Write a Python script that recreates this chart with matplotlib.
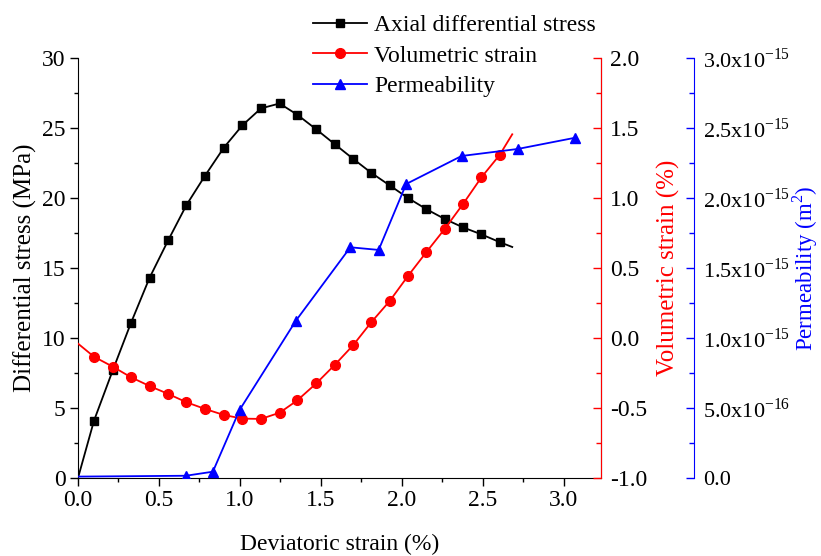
import numpy as np
import matplotlib
matplotlib.use('Agg')
import matplotlib.pyplot as plt
from matplotlib.ticker import FixedLocator, FuncFormatter

plt.rcParams['font.family'] = ['Liberation Serif', 'DejaVu Serif']
plt.rcParams['mathtext.fontset'] = 'custom'
plt.rcParams['mathtext.rm'] = 'Liberation Serif'
plt.rcParams['font.size'] = 17

# deviatoric strain (%) shared by stress and volumetric strain
strain = [0, 0.099, 0.215, 0.328, 0.442, 0.558, 0.670, 0.785, 0.901, 1.016,
          1.130, 1.245, 1.354, 1.472, 1.585, 1.699, 1.811, 1.925, 2.038,
          2.152, 2.265, 2.378, 2.492, 2.604, 2.682]
stress = [0, 4.1, 7.7, 11.1, 14.3, 17.0, 19.5, 21.6, 23.6, 25.2, 26.4, 26.75,
          25.95, 24.9, 23.85, 22.8, 21.8, 20.9, 20.0, 19.2, 18.5, 17.9, 17.4,
          16.85, 16.5]
vol_strain = [-0.04, -0.134, -0.205, -0.281, -0.343, -0.40, -0.459, -0.507,
              -0.55, -0.576, -0.578, -0.534, -0.446, -0.324, -0.193, -0.052,
              0.112, 0.264, 0.443, 0.614, 0.779, 0.957, 1.148, 1.307, 1.455]

# permeability
perm_strain = [0, 0.666, 0.833, 0.998, 1.346, 1.682, 1.857, 2.027, 2.369,
               2.715, 3.069]
perm = [0.01e-15, 0.016e-15, 0.045e-15, 0.486e-15, 1.124e-15, 1.648e-15,
        1.629e-15, 2.10e-15, 2.30e-15, 2.35e-15, 2.43e-15]

# tick positions
x_ticks = [0, 0.5, 1.0, 1.5, 2.0, 2.5, 3.0]
stress_ticks = [0, 5, 10, 15, 20, 25, 30]
vol_ticks = [-1.0, -0.5, 0.0, 0.5, 1.0, 1.5, 2.0]
perm_ticks = [0, 0.5e-15, 1.0e-15, 1.5e-15, 2.0e-15, 2.5e-15, 3.0e-15]

fig = plt.figure(figsize=(8.21, 5.56), dpi=100)
ax = fig.add_axes([0.095, 0.1403, 0.637, 0.7554])
ax2 = ax.twinx()
ax3 = ax.twinx()

l1, = ax.plot(strain, stress, color='black', lw=1.3, marker='s', ms=6,
              markevery=slice(1, -1), label='Axial differential stress', zorder=3)
l2, = ax2.plot(strain, vol_strain, color='red', lw=1.3, marker='o', ms=7,
               markevery=slice(1, -1), label='Volumetric strain')
l3, = ax3.plot(perm_strain, perm, color='blue', lw=1.3, marker='^', ms=7.5,
               markevery=slice(1, None), label='Permeability')

ax.set_xlim(0, 3.23)
ax.set_ylim(0, 30)
ax2.set_ylim(-1.0, 2.0)
ax3.set_ylim(0, 3.0e-15)


def minors(t):
    # one minor tick halfway between majors
    return [(a + b) / 2 for a, b in zip(t[:-1], t[1:])]


ax.xaxis.set_major_locator(FixedLocator(x_ticks))
ax.xaxis.set_minor_locator(FixedLocator(minors(x_ticks)))
ax.yaxis.set_major_locator(FixedLocator(stress_ticks))
ax.yaxis.set_minor_locator(FixedLocator(minors(stress_ticks)))
ax.xaxis.set_major_formatter(FuncFormatter(lambda v, p: '%.1f' % v))
ax2.yaxis.set_major_locator(FixedLocator(vol_ticks))
ax2.yaxis.set_minor_locator(FixedLocator(minors(vol_ticks)))
ax2.yaxis.set_major_formatter(FuncFormatter(lambda v, p: '%.1f' % v))
ax3.yaxis.set_major_locator(FixedLocator(perm_ticks))
ax3.yaxis.set_minor_locator(FixedLocator(minors(perm_ticks)))


def perm_fmt(v, p):
    if abs(v) < 1e-20:
        return '0.0'
    e = int(np.floor(np.log10(abs(v)) + 1e-9))
    m = v / 10 ** e
    return r'%.1fx10$^{\mathregular{%d}}$' % (m, e)


ax3.yaxis.set_major_formatter(FuncFormatter(perm_fmt))

for a in (ax, ax2, ax3):
    a.spines['top'].set_visible(False)

ax.tick_params(which='both', direction='out', labelsize=17)
ax.tick_params(which='major', length=5.8, width=1, pad=3)
ax.tick_params(which='minor', length=3, width=1)

ax2.spines['right'].set_color('red')
ax2.spines['left'].set_visible(False)
ax2.spines['bottom'].set_visible(False)
ax2.tick_params(which='both', axis='y', direction='in', colors='red',
                labelcolor='black', labelsize=17, width=1)
ax2.tick_params(which='major', axis='y', length=6, pad=6.5)
ax2.tick_params(which='minor', axis='y', length=3.3)

ax3.spines['right'].set_position(('outward', 93 * 72 / 100))
ax3.spines['right'].set_color('blue')
ax3.spines['left'].set_visible(False)
ax3.spines['bottom'].set_visible(False)
ax3.tick_params(which='both', axis='y', direction='in', colors='blue',
                labelcolor='black', labelsize=16, width=1)
ax3.tick_params(which='major', axis='y', length=6, pad=6.5)
ax3.tick_params(which='minor', axis='y', length=3.3)

ax.set_xlabel('Deviatoric strain (%)', fontsize=17, labelpad=16)
ax.set_ylabel('Differential stress (MPa)', fontsize=18, labelpad=4)
ax2.set_ylabel('Volumetric strain (%)', fontsize=18, color='red')
ax2.yaxis.set_label_coords(1.106, 0.5)
ax3.set_ylabel(r'Permeability (m$^{\mathregular{2}}$)', fontsize=16.5,
               color='blue')
ax3.yaxis.set_label_coords(1.363, 0.5)

fig.legend(handles=[l1, l2, l3], loc='upper left',
           bbox_to_anchor=(0.355, 1.012), frameon=False, fontsize=17,
           handlelength=2.3, labelspacing=0.38, handletextpad=0.3)

fig.savefig('out.png', dpi=100)
